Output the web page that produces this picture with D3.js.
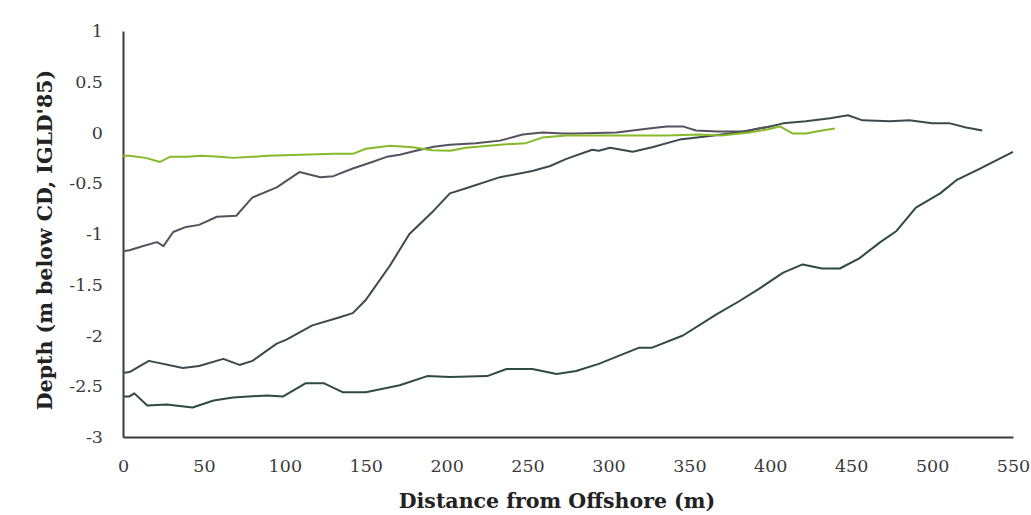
<!DOCTYPE html>
<html>
<head>
<meta charset="utf-8">
<script src="https://cdn.jsdelivr.net/npm/d3@7"></script>
<style>
  body { margin: 0; background: #fff; }
  svg { display: block; }
</style>
</head>
<body>
<div id="chart"></div>
<script>
// Profile values: [distance (m), depth (m)]
const greenProfile = [
  [0, -0.23], [4, -0.23], [14, -0.25], [23, -0.29], [29, -0.24], [40, -0.24], [48, -0.23],
  [60, -0.24], [68, -0.25], [80, -0.24], [89, -0.23], [110, -0.22], [130, -0.21], [142, -0.21],
  [150, -0.16], [165, -0.13], [179, -0.145], [191, -0.175], [202, -0.18], [212, -0.15],
  [233, -0.12], [249, -0.105], [259, -0.05], [274, -0.03], [294, -0.03], [315, -0.03],
  [336, -0.03], [356, -0.02], [370, -0.03], [387, 0.0], [398, 0.03], [406, 0.06],
  [414, -0.01], [422, -0.01], [432, 0.02], [440, 0.04]
];
const upperProfile = [
  [0, -1.17], [4, -1.16], [12, -1.12], [21, -1.08], [25, -1.12], [31, -0.98], [39, -0.93],
  [47, -0.91], [58, -0.83], [70, -0.82], [80, -0.64], [95, -0.54], [109, -0.39], [122, -0.44],
  [130, -0.43], [142, -0.355], [154, -0.29], [163, -0.24], [171, -0.22], [181, -0.18],
  [192, -0.14], [202, -0.12], [218, -0.105], [233, -0.08], [247, -0.02], [259, 0.0],
  [272, -0.01], [280, -0.01], [305, 0.0], [325, 0.04], [336, 0.06], [346, 0.06], [354, 0.02],
  [367, 0.01], [385, 0.01], [393, 0.04], [400, 0.06]
];
const middleProfile = [
  [0, -2.37], [4, -2.36], [16, -2.25], [37, -2.32], [47, -2.30], [62, -2.23], [72, -2.29],
  [80, -2.25], [95, -2.08], [101, -2.04], [117, -1.90], [134, -1.82], [142, -1.78], [150, -1.65],
  [154, -1.56], [165, -1.31], [177, -1.0], [192, -0.77], [202, -0.6], [212, -0.55], [233, -0.44],
  [253, -0.38], [264, -0.33], [274, -0.26], [290, -0.17], [294, -0.18], [301, -0.15],
  [315, -0.19], [327, -0.145], [344, -0.07], [360, -0.04], [380, 0.0], [400, 0.06],
  [408, 0.09], [422, 0.11], [437, 0.14], [448, 0.17], [457, 0.12], [474, 0.11], [486, 0.12],
  [500, 0.09], [511, 0.09], [521, 0.05], [531, 0.02]
];
const lowerProfile = [
  [0, -2.6], [4, -2.6], [7, -2.57], [15, -2.69], [27, -2.68], [43, -2.71], [56, -2.64],
  [68, -2.61], [89, -2.59], [99, -2.60], [113, -2.47], [124, -2.47], [136, -2.56], [150, -2.56],
  [171, -2.49], [188, -2.40], [202, -2.41], [225, -2.40], [237, -2.33], [253, -2.33],
  [268, -2.38], [280, -2.35], [294, -2.28], [319, -2.12], [327, -2.12], [346, -2.0],
  [367, -1.79], [381, -1.66], [393, -1.54], [408, -1.38], [420, -1.30], [432, -1.34],
  [443, -1.34], [455, -1.24], [468, -1.08], [478, -0.97], [490, -0.74], [505, -0.60],
  [515, -0.47], [529, -0.36], [550, -0.19]
];

const xTicks = [0, 50, 100, 150, 200, 250, 300, 350, 400, 450, 500, 550];
const yTicks = [1, 0.5, 0, -0.5, -1, -1.5, -2, -2.5, -3];

const series = [
  { data: lowerProfile, color: "#2e4a43" },
  { data: middleProfile, color: "#3b4a4c" },
  { data: upperProfile, color: "#58505e" },
  { data: greenProfile, color: "#86ba2a" }
];

const width = 1031, height = 515;
const margin = { left: 123, right: 18, top: 31, bottom: 78 };

const svg = d3.select("#chart").append("svg")
  .attr("width", width)
  .attr("height", height);

const x = d3.scaleLinear().domain([0, 550]).range([margin.left, width - margin.right]);
const y = d3.scaleLinear().domain([-3, 1]).range([height - margin.bottom, margin.top]);

const fontFamily = "'DejaVu Serif', serif";

// axes (no tick marks, just the lines and labels)
const xAxis = svg.append("g")
  .attr("transform", "translate(0," + y(-3) + ")")
  .call(d3.axisBottom(x).tickValues(xTicks).tickSize(0).tickPadding(23).tickFormat(d3.format("d")));
const yAxis = svg.append("g")
  .attr("transform", "translate(" + x(0) + ",0)")
  .call(d3.axisLeft(y).tickValues(yTicks).tickSize(0).tickPadding(20).tickFormat(d => String(d)));

[xAxis, yAxis].forEach(g => {
  g.select(".domain").attr("stroke", "#3a3a3a").attr("stroke-width", 2);
  g.selectAll("text")
    .attr("font-family", fontFamily)
    .attr("font-size", "17.5px")
    .attr("fill", "#3a3a3a");
});

const line = d3.line()
  .x(d => x(d[0]))
  .y(d => y(d[1]));

svg.selectAll(".profile")
  .data(series)
  .enter()
  .append("path")
  .attr("class", "profile")
  .attr("d", d => line(d.data))
  .attr("fill", "none")
  .attr("stroke", d => d.color)
  .attr("stroke-width", 2)
  .attr("stroke-linejoin", "round");

// axis titles
svg.append("text")
  .attr("x", 557)
  .attr("y", 508)
  .attr("text-anchor", "middle")
  .attr("font-family", fontFamily)
  .attr("font-weight", "bold")
  .attr("font-size", "20.5px")
  .attr("fill", "#222")
  .text("Distance from Offshore (m)");

svg.append("text")
  .attr("transform", "translate(52,240) rotate(-90)")
  .attr("text-anchor", "middle")
  .attr("font-family", fontFamily)
  .attr("font-weight", "bold")
  .attr("font-size", "20.5px")
  .attr("fill", "#222")
  .text("Depth (m below CD, IGLD'85)");
</script>
</body>
</html>
